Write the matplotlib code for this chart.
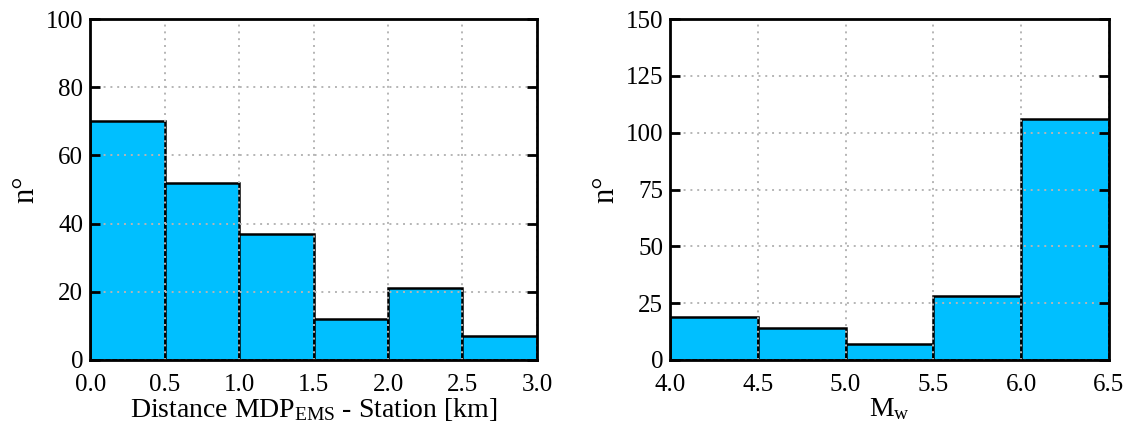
import numpy as np
import matplotlib
matplotlib.use("Agg")
import matplotlib.pyplot as plt

plt.rcParams['font.family'] = ['Liberation Serif', 'DejaVu Serif']
plt.rcParams['mathtext.fontset'] = 'custom'
plt.rcParams['mathtext.rm'] = 'Liberation Serif'
plt.rcParams['mathtext.it'] = 'Liberation Serif:italic'

# distance histogram
dist_edges = [0.0, 0.5, 1.0, 1.5, 2.0, 2.5, 3.0]
dist_counts = [70, 52, 37, 12, 21, 7]

# magnitude histogram
mw_edges = [4.0, 4.5, 5.0, 5.5, 6.0, 6.5]
mw_counts = [19, 14, 7, 28, 106]

fig = plt.figure(figsize=(11.28, 4.26), dpi=100)
ax1 = fig.add_axes([0.080, 0.155, 0.396, 0.80])
ax2 = fig.add_axes([0.594, 0.155, 0.389, 0.80])


def draw(ax, edges, counts, ymax, yticks, xlabel):
    edges = np.array(edges)
    ax.bar(edges[:-1], counts, width=np.diff(edges), align='edge',
           color='#00BFFF', edgecolor='black', linewidth=1.8, zorder=1)
    ax.set_xlim(edges[0], edges[-1])
    ax.set_ylim(0, ymax)
    ax.set_xticks(edges)
    ax.set_xticklabels(['%.1f' % e for e in edges])
    ax.set_yticks(yticks)
    ax.grid(True, linestyle=(0, (1, 2.5)), color='#b5b5b5', linewidth=1.4, zorder=3)
    ax.set_axisbelow(False)
    ax.tick_params(axis='y', direction='in', left=True, right=True,
                   length=7, width=2, labelsize=18, pad=5)
    ax.tick_params(axis='x', direction='in', bottom=False, top=False,
                   labelsize=18, pad=10)
    for s in ax.spines.values():
        s.set_linewidth(2)
        s.set_zorder(5)
    ax.set_xlabel(xlabel, fontsize=20, labelpad=0)
    ax.set_ylabel('n°', fontsize=22, labelpad=4)


draw(ax1, dist_edges, dist_counts, 100, [0, 20, 40, 60, 80, 100],
     r'Distance MDP$_{\mathrm{EMS}}$ - Station [km]')
draw(ax2, mw_edges, mw_counts, 150, [0, 25, 50, 75, 100, 125, 150],
     r'M$_{\mathrm{w}}$')

fig.savefig('out.png', dpi=100)
